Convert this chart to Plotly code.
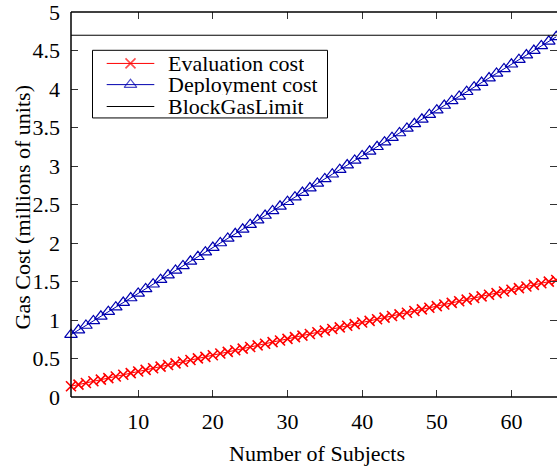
import plotly.graph_objects as go

subjects = list(range(1, 67))
evaluation_cost = [0.140, 0.161, 0.182, 0.204, 0.225, 0.246, 0.267, 0.289, 0.310, 0.331,
                   0.352, 0.374, 0.395, 0.416, 0.437, 0.458, 0.480, 0.501, 0.522, 0.543,
                   0.565, 0.586, 0.607, 0.628, 0.650, 0.671, 0.692, 0.713, 0.734, 0.756,
                   0.777, 0.798, 0.819, 0.841, 0.862, 0.883, 0.904, 0.926, 0.947, 0.968,
                   0.989, 1.010, 1.032, 1.053, 1.074, 1.095, 1.117, 1.138, 1.159, 1.180,
                   1.202, 1.223, 1.244, 1.265, 1.286, 1.308, 1.329, 1.350, 1.371, 1.393,
                   1.414, 1.435, 1.456, 1.478, 1.499, 1.520]
deployment_cost = [0.810, 0.870, 0.929, 0.989, 1.048, 1.108, 1.167, 1.227, 1.286, 1.346,
                   1.405, 1.465, 1.524, 1.584, 1.644, 1.703, 1.763, 1.822, 1.882, 1.941,
                   2.001, 2.060, 2.120, 2.179, 2.239, 2.299, 2.358, 2.418, 2.477, 2.537,
                   2.596, 2.656, 2.715, 2.775, 2.834, 2.894, 2.953, 3.013, 3.073, 3.132,
                   3.192, 3.251, 3.311, 3.370, 3.430, 3.489, 3.549, 3.608, 3.668, 3.727,
                   3.787, 3.847, 3.906, 3.966, 4.025, 4.085, 4.144, 4.204, 4.263, 4.323,
                   4.382, 4.442, 4.501, 4.561, 4.621, 4.680]
block_gas_limit = 4.7
series_names = ["Evaluation cost", "Deployment cost", "BlockGasLimit"]
x_range = [1, 66.1]
y_range = [0, 5.002]
y_ticks = [0, 0.5, 1, 1.5, 2, 2.5, 3, 3.5, 4, 4.5, 5]
y_tick_labels = ["0", "0.5", "1", "1.5", "2", "2.5", "3", "3.5", "4", "4.5", "5"]
x_ticks = [10, 20, 30, 40, 50, 60]
x_title = "Number of Subjects"
y_title = "Gas Cost (millions of units)"

FONT = "Liberation Serif"
FS = 22
RED = "#ff0000"
BLUE = "#0000b0"
W, H = 557, 470
L, R, T, B = 71, 0, 10, 73          # plot area margins (px)
PX0, PX1, PY0, PY1 = L, W - R, T, H - B   # plot area in page pixels

styles = [
    dict(color=RED, symbol="x-thin-open", size=10, mw=1.6),
    dict(color=BLUE, symbol="triangle-up-open", size=11, mw=1.2),
    dict(color="black", symbol=None, size=0, mw=0),
]

fig = go.Figure()
fig.add_trace(go.Scatter(
    x=subjects, y=evaluation_cost, mode="lines+markers", name=series_names[0],
    line=dict(color=RED, width=1),
    marker=dict(symbol=styles[0]["symbol"], size=styles[0]["size"], color=RED,
                line=dict(color=RED, width=styles[0]["mw"])),
    cliponaxis=False, showlegend=False,
))
fig.add_trace(go.Scatter(
    x=subjects, y=deployment_cost, mode="lines+markers", name=series_names[1],
    line=dict(color=BLUE, width=1),
    marker=dict(symbol=styles[1]["symbol"], size=styles[1]["size"], color=BLUE,
                line=dict(color=BLUE, width=styles[1]["mw"])),
    cliponaxis=False, showlegend=False,
))
fig.add_trace(go.Scatter(
    x=[x_range[0] - 5, x_range[1] + 5], y=[block_gas_limit, block_gas_limit],
    mode="lines", name=series_names[2],
    line=dict(color="black", width=1), showlegend=False,
))

# ---- hand-built legend (gnuplot style), placed in page-pixel overlay axes ----
box = dict(x0=92.5, x1=327.5, y0=48.5, y1=116.5)
rows_y = [61.7, 83.0, 105.0]
sample_x0, sample_x1, text_x = 106.7, 154.3, 166.0
shapes = [dict(type="rect", xref="x2", yref="y2", layer="below",
               line=dict(color="black", width=1), fillcolor="white", **box)]
annotations = []
for name, st, ry in zip(series_names, styles, rows_y):
    mid = (sample_x0 + sample_x1) / 2
    fig.add_trace(go.Scatter(
        x=[sample_x0, mid, sample_x1], y=[ry, ry, ry], xaxis="x2", yaxis="y2",
        mode="lines+markers" if st["symbol"] else "lines",
        line=dict(color=st["color"], width=1),
        marker=dict(symbol=st["symbol"] or "circle", size=[0, st["size"], 0],
                    color=st["color"],
                    line=dict(color=st["color"], width=st["mw"])),
        showlegend=False, hoverinfo="skip", cliponaxis=False,
    ))
    annotations.append(dict(
        x=text_x, y=ry, xref="x2", yref="y2", text=name, showarrow=False,
        xanchor="left", yanchor="middle", height=21, valign="middle",
        font=dict(family=FONT, size=FS, color="black"),
    ))

# axis titles
annotations.append(dict(
    x=(316.5 - PX0) / (PX1 - PX0), y=(PY1 - 439) / (PY1 - PY0), xref="paper", yref="paper",
    text=x_title, showarrow=False, xanchor="center", yanchor="top",
    font=dict(family=FONT, size=FS, color="black"),
))
annotations.append(dict(
    x=(22.5 - PX0) / (PX1 - PX0), y=(PY1 - 207) / (PY1 - PY0), xref="paper", yref="paper",
    text=y_title, showarrow=False, xanchor="center", yanchor="middle", textangle=-90,
    font=dict(family=FONT, size=FS, color="black"),
))

# frame (left, bottom, top); right side shows only mirrored ticks
for x0, y0, x1, y1 in [(0, 0, 0, 1), (0, 0, 1, 0), (0, 1, 1, 1)]:
    shapes.append(dict(type="line", xref="paper", yref="paper", x0=x0, y0=y0, x1=x1, y1=y1,
                       line=dict(color="black", width=1.5)))

fig.update_layout(
    width=W, height=H,
    margin=dict(l=L, r=R, t=T, b=B),
    plot_bgcolor="white", paper_bgcolor="white",
    font=dict(family=FONT, size=FS, color="black"),
    showlegend=False,
    shapes=shapes, annotations=annotations,
    xaxis=dict(
        range=x_range, tickvals=x_ticks, ticks="inside", ticklen=7, tickcolor="#333",
        tickwidth=1, showline=False, mirror="ticks", showgrid=False, zeroline=False,
        tickfont=dict(family=FONT, size=FS), ticklabelstandoff=9,
    ),
    yaxis=dict(
        range=y_range, tickvals=y_ticks, ticktext=y_tick_labels, ticks="inside", ticklen=7,
        tickcolor="#333", tickwidth=1, showline=False, mirror="ticks",
        showgrid=False, zeroline=False, ticklabeloverflow="allow",
        tickfont=dict(family=FONT, size=FS), ticklabelstandoff=10,
    ),
    xaxis2=dict(overlaying="x", range=[PX0, PX1], visible=False, fixedrange=True),
    yaxis2=dict(overlaying="y", range=[PY1, PY0], visible=False, fixedrange=True),
)

fig.write_html("out.html")
